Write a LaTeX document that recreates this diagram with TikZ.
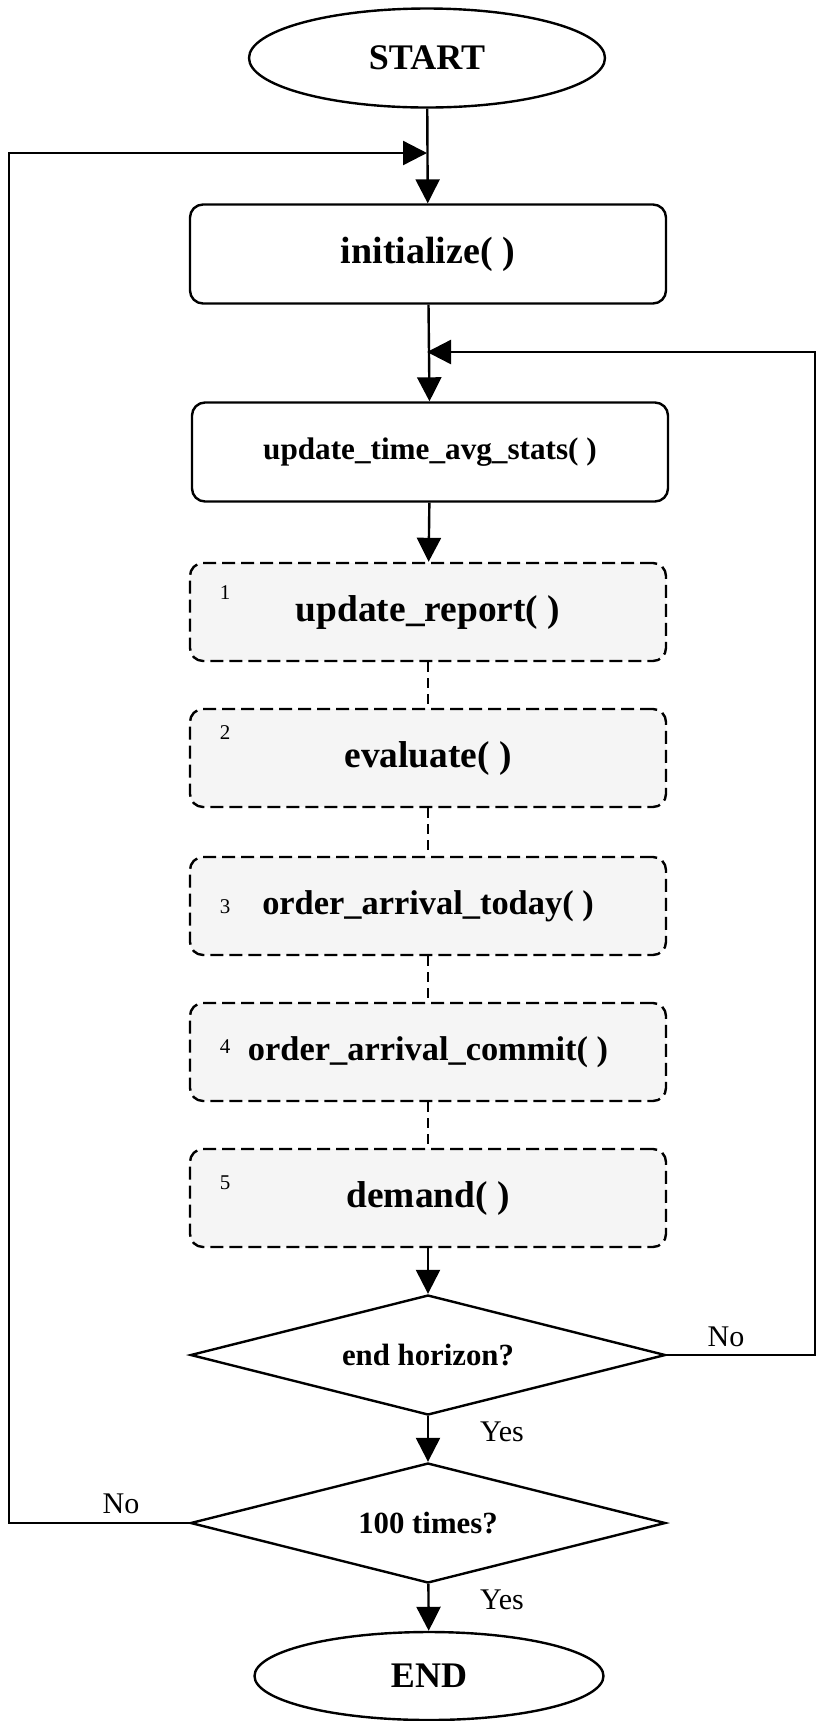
\documentclass[tikz,border=0pt]{standalone}
\usepackage{fontspec}
\setmainfont{Liberation Serif}
\usetikzlibrary{shapes.geometric,arrows.meta}

\begin{document}
\begin{tikzpicture}[x=0.5pt, y=-0.5pt, line width=1.2pt,
  term/.style={draw, ellipse, inner sep=0pt, minimum width=178pt, minimum height=49.5pt, font=\fontsize{18}{20}\selectfont\bfseries},
  proc/.style={draw, rounded corners=6.5pt, inner sep=0pt, minimum width=238pt, minimum height=49.5pt},
  subproc/.style={proc, fill=gray!8, dash pattern=on 6.5pt off 3pt, minimum height=49pt, font=\fontsize{18.7}{21}\selectfont\bfseries},
  decide/.style={draw, diamond, aspect=4, inner sep=0pt, minimum width=237.5pt, minimum height=60pt, font=\fontsize{15.4}{17}\selectfont\bfseries},
  idx/.style={inner sep=0pt, font=\fontsize{10.5}{12}\selectfont},
  lbl/.style={inner sep=0pt, font=\fontsize{15}{17}\selectfont},
  link/.style={-{Triangle[length=12pt,width=12pt]}},
  dlink/.style={dash pattern=on 5pt off 3pt}]
\useasboundingbox (0,0) rectangle (815,1721);
\node[term] (F1N0) at (427,58) {START};
\node[proc, font=\fontsize{19}{21}\selectfont\bfseries] (F1N1) at (428,254) {initialize( )};
\node[proc, font=\fontsize{15.6}{18}\selectfont\bfseries] (F1N2) at (430,452) {update\_time\_avg\_stats( )};
\node[subproc] (F1N3) at (428,612) {update\_report( )};
\node[subproc] (F1N4) at (428,758) {evaluate( )};
\node[subproc, font=\fontsize{17.2}{20}\selectfont\bfseries] (F1N5) at (428,906) {order\_arrival\_today( )};
\node[subproc, font=\fontsize{17.2}{20}\selectfont\bfseries] (F1N6) at (428,1052) {order\_arrival\_commit( )};
\node[subproc] (F1N7) at (428,1198) {demand( )};
\node[decide] (F1N8) at (428,1355) {end horizon?};
\node[decide] (F1N9) at (428,1523) {100 times?};
\node[term, minimum width=174.5pt, minimum height=44pt] (F1N10) at (429,1676) {END};
% step numbers
\node[idx] (F1I1) at (225,593) {1};
\node[idx] (F1I2) at (225,733) {2};
\node[idx] (F1I3) at (225,907) {3};
\node[idx] (F1I4) at (225,1047) {4};
\node[idx] (F1I5) at (225,1183) {5};
% branch labels
\node[lbl] (F1L1) at (726,1337) {No};
\node[lbl] (F1L2) at (502,1432) {Yes};
\node[lbl] (F1L3) at (121,1504) {No};
\node[lbl] (F1L4) at (502,1600) {Yes};
\coordinate (F1C1) at (815,352);
\coordinate (F1C2) at (427,352);
\coordinate (F1C3) at (9,153);
\coordinate (F1C4) at (427,153);
\draw[link] (F1N0) -- (F1N1);
\draw[link] (F1N1) -- (F1N2);
\draw[link] (F1N2) -- (F1N3);
\draw[dlink] (F1N3) -- (F1N4);
\draw[dlink] (F1N4) -- (F1N5);
\draw[dlink] (F1N5) -- (F1N6);
\draw[dlink] (F1N6) -- (F1N7);
\draw[link] (F1N7) -- (F1N8);
\draw[link] (F1N8) -- (F1N9);
\draw[link] (F1N9) -- (F1N10);
\draw[link] (F1N8.east) -| (F1C1) -- (F1C2);
\draw[link] (F1N9.west) -| (F1C3) -- (F1C4);
\end{tikzpicture}
\end{document}
